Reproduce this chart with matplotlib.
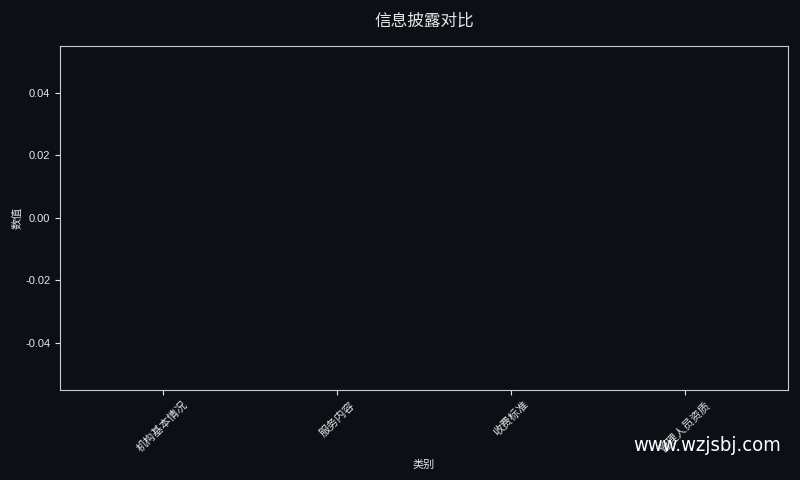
import matplotlib
matplotlib.use('Agg')
import matplotlib.pyplot as plt

plt.rcParams['font.family'] = ['Liberation Sans', 'Noto Sans CJK SC', 'DejaVu Sans']
plt.rcParams['axes.unicode_minus'] = False

categories = ['机构基本情况', '服务内容', '收费标准', '管理人员资质']
values = [0, 0, 0, 0]

bg = '#0c0f15'
fg = '#e6e6e6'

fig, ax = plt.subplots(figsize=(8, 4.8), dpi=100)
fig.patch.set_facecolor(bg)
ax.set_facecolor(bg)

ax.bar(categories, values, color='#4c8cd9')

ax.set_title('信息披露对比', color=fg, fontsize=12, pad=14)
ax.set_xlabel('类别', color=fg, fontsize=8)
ax.set_ylabel('数值', color=fg, fontsize=8, labelpad=1.5)
ax.tick_params(colors=fg, labelsize=8)
plt.setp(ax.get_xticklabels(), rotation=45)
for s in ax.spines.values():
    s.set_color('#cccccc')

fig.subplots_adjust(left=0.075, right=0.985, top=0.905, bottom=0.188)
fig.text(0.976, 0.053, 'www.wzjsbj.com', color='white', fontsize=14.5,
         ha='right', va='bottom', family=['DejaVu Sans'], fontstretch='condensed')

fig.savefig('out.png', facecolor=bg)
